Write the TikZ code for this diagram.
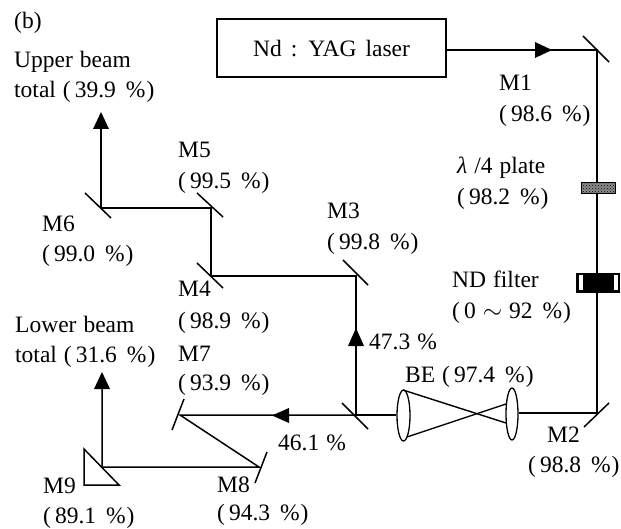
\documentclass[tikz,border=0pt]{standalone}
\usepackage{fontspec}
\setmainfont{Liberation Serif}
\usetikzlibrary{arrows.meta,shapes.geometric,patterns}
\newcommand{\lblfont}{\fontsize{23.5}{30}\selectfont\spaceskip=7pt\relax}
\newcommand{\twol}[3][30pt]{\vtop{\baselineskip=#1\hbox{#2}\hbox{#3}}}
\newcommand{\pc}[1]{{\spaceskip=4pt\relax( }#1{\spaceskip=10pt\relax{} \%}\hspace{1pt})}
\tikzset{
 beam/.style={line width=1.5pt,black},
 mirror/.style={line width=1.5pt,black},
 lbl/.style={font=\lblfont,inner sep=0pt,anchor=base west},
 tip/.style={fill=black,draw=none},
 lens/.style={ellipse,draw=black,line width=1.3pt,inner sep=0pt}
}
\begin{document}
\begin{tikzpicture}[x=1pt,y=-1pt]
\useasboundingbox (0,0) rectangle (621,529);
\fill[white] (0,0) rectangle (621,529);
% beam points
\coordinate (m1) at (597,50);
\coordinate (m2) at (597,413);
\coordinate (bs) at (356,415);
\coordinate (m3) at (356,276);
\coordinate (m4) at (211,276);
\coordinate (m5) at (211,208);
\coordinate (m6) at (101,208);
\coordinate (up) at (101,114);
\coordinate (m7) at (180,416);
\coordinate (m8) at (259,467);
\coordinate (m9) at (102,467);
\coordinate (lo) at (102,374);
\node[draw=black,line width=1.4pt,minimum width=229pt,minimum height=58pt,inner sep=0pt,font={\lblfont\spaceskip=9pt\relax},text depth=0pt] (laser) at (331.5,48) {Nd : YAG laser};
\node[lens,minimum width=13pt,minimum height=51pt] (lensa) at (403.5,415.5) {};
\node[lens,minimum width=12pt,minimum height=52pt] (lensb) at (512,414) {};
% beams
\draw[beam] (laser.east |- m1) -- (m1) -- (m2) -- (lensb.east |- m2);
\draw[beam] (lensa.west |- bs) -- (bs) -- (m3) -- (m4) -- (m5) -- (m6) -- (up);
\draw[beam] (bs) -- (m7 |- bs) -- (m8) -- (m9) -- (lo);
% expander rays
\draw[line width=1.4pt] (403,390) -- (506,423);
\draw[line width=1.4pt] (407,437) -- (506,404);
% mirrors
\draw[mirror] (583,36) -- (609,62);
\draw[mirror] (584,427) -- (609,403);
\draw[mirror] (342,403) -- (368,429);
\draw[mirror] (343,260) -- (368,285);
\draw[mirror] (197,263) -- (223,288);
\draw[mirror] (197,193) -- (223,217);
\draw[mirror] (85,193) -- (111,218);
\draw[mirror] (184,399) -- (172,430);
\draw[mirror] (267,452) -- (255,483);
\draw[mirror,line join=miter] (84,449) -- (84,485) -- (119,485) -- cycle;
% arrow heads
\fill[tip] (552,50) -- (535,42) -- (535,58) -- cycle;
\fill[tip] (356,328) -- (348,346) -- (364,346) -- cycle;
\fill[tip] (272,415.5) -- (289,408) -- (289,423) -- cycle;
\fill[tip] (101,112) -- (93,129) -- (109,129) -- cycle;
\fill[tip] (102,372) -- (94,389) -- (110,389) -- cycle;
% wave plate and ND filter
\draw[draw=black,line width=1pt,fill=black!45] (581.5,182.5) rectangle (615.5,193.5);
\fill[pattern=crosshatch dots,pattern color=black] (581.5,182.5) rectangle (615.5,193.5);
\draw[draw=black,line width=1.2pt,fill=black] (577,273.5) rectangle (619,292);
\fill[white] (579,275.5) rectangle (583,290);
\fill[white] (614,275.5) rectangle (617.5,290);
% labels
\node[lbl] (b) at (14,29) {(b)};
\node[lbl] (t1) at (14,68) {\twol{Upper beam}{total \pc{39.9}}};
\node[lbl] (t2) at (15,332) {\twol{Lower beam}{total \pc{31.6}}};
\node[lbl] (lm1) at (499,91) {\twol[31pt]{M1}{\pc{98.6}}};
\node[lbl] (lq) at (457,174) {\twol[31pt]{\textit{λ} /4 plate}{\pc{98.2}}};
\node[lbl] (lnd) at (452,288) {\twol{ND filter}{\pc{0 $\sim$ 92}}};
\node[lbl] (lm2) at (528,442) {\twol{\hspace{19pt}M2}{\pc{98.8}}};
\node[lbl] (lbe) at (405,382) {BE \pc{97.4}};
\node[lbl] (lm3) at (327,219) {\twol[31pt]{M3}{\pc{99.8}}};
\node[lbl] (lm4) at (178,297) {\twol[32pt]{M4}{\pc{98.9}}};
\node[lbl] (lm5) at (178,158) {\twol[31pt]{M5}{\pc{99.5}}};
\node[lbl] (lm6) at (42,232) {\twol{M6}{\pc{99.0}}};
\node[lbl] (lm7) at (178,361) {\twol[29pt]{M7}{\pc{93.9}}};
\node[lbl] (lm8) at (217,492) {\twol[28pt]{M8}{\pc{94.3}}};
\node[lbl] (lm9) at (43,493) {\twol{M9}{\pc{89.1}}};
\node[lbl] (p1) at (369,349) {47.3 \%};
\node[lbl] (p2) at (278,450) {46.1 \%};
\end{tikzpicture}
\end{document}
